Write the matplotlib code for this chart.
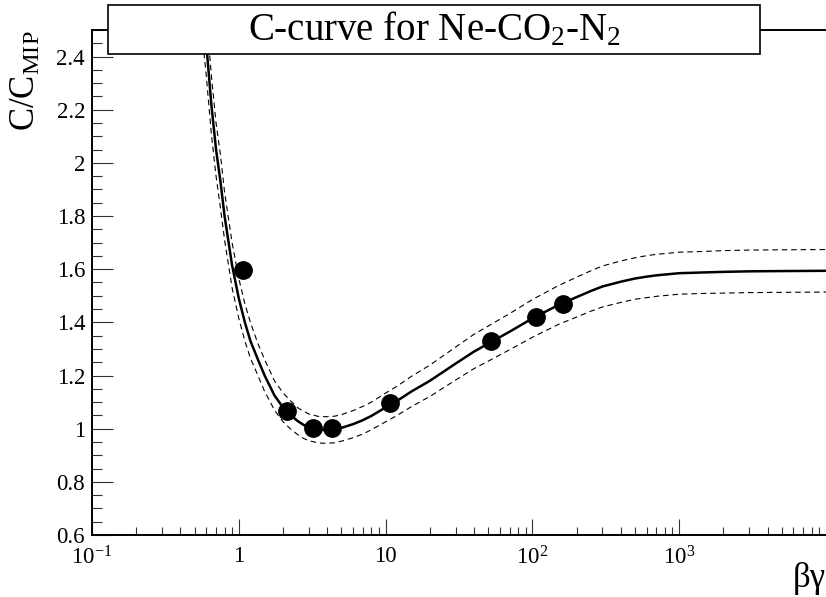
import matplotlib
matplotlib.use("Agg")
import matplotlib.pyplot as plt
from matplotlib.patches import Rectangle
from matplotlib.ticker import FixedLocator, FixedFormatter, LogLocator, MultipleLocator, NullFormatter

plt.rcParams['font.family'] = ['Liberation Serif', 'DejaVu Serif']
plt.rcParams['mathtext.fontset'] = 'custom'
plt.rcParams['mathtext.rm'] = 'Liberation Serif'
plt.rcParams['mathtext.it'] = 'Liberation Serif:italic'
plt.rcParams['mathtext.bf'] = 'Liberation Serif:bold'

# ---- data ----
bg_data = [1.07, 2.13, 3.2, 4.33, 10.7, 52.5, 106, 162]
c_data = [1.597, 1.066, 1.002, 1.002, 1.096, 1.331, 1.421, 1.470]

bg_fit = [0.57, 0.6, 0.65, 0.7, 0.75, 0.8, 0.9, 1.0, 1.1, 1.2,
          1.35, 1.5, 1.75, 2.0, 2.25, 2.5, 2.75, 3.0, 3.5, 4.0,
          4.5, 5.0, 6.0, 7.0, 8.0, 10, 12, 15, 20, 30,
          40, 50, 70, 100, 150, 200, 250, 300, 400, 500,
          600, 700, 800, 1000, 1500, 2000, 3000, 5000, 10000]
c_fit = [2.58, 2.45, 2.22, 2.05, 1.93, 1.80, 1.615, 1.49, 1.40, 1.33,
         1.26, 1.20, 1.125, 1.08, 1.052, 1.03, 1.015, 1.005, 0.996, 0.995,
         0.997, 1.003, 1.017, 1.032, 1.048, 1.08, 1.105, 1.14, 1.18, 1.245,
         1.29, 1.32, 1.365, 1.415, 1.465, 1.495, 1.518, 1.535, 1.553, 1.565,
         1.572, 1.577, 1.580, 1.585, 1.588, 1.59, 1.592, 1.593, 1.594]
c_upper = [2.71, 2.57, 2.33, 2.15, 2.03, 1.89, 1.70, 1.565, 1.47, 1.40,
           1.32, 1.26, 1.18, 1.135, 1.105, 1.08, 1.066, 1.055, 1.046, 1.045,
           1.047, 1.053, 1.068, 1.084, 1.10, 1.134, 1.16, 1.197, 1.239, 1.307,
           1.355, 1.386, 1.433, 1.486, 1.538, 1.57, 1.594, 1.612, 1.631, 1.643,
           1.651, 1.656, 1.659, 1.664, 1.667, 1.67, 1.672, 1.673, 1.674]
c_lower = [2.45, 2.33, 2.11, 1.95, 1.83, 1.71, 1.53, 1.415, 1.33, 1.265,
           1.20, 1.14, 1.07, 1.026, 0.999, 0.979, 0.964, 0.955, 0.946, 0.945,
           0.947, 0.953, 0.966, 0.980, 0.996, 1.026, 1.05, 1.083, 1.121, 1.183,
           1.226, 1.254, 1.297, 1.344, 1.392, 1.42, 1.442, 1.458, 1.475, 1.487,
           1.493, 1.498, 1.501, 1.506, 1.509, 1.51, 1.512, 1.513, 1.514]

x_major = [0.1, 1, 10, 100, 1000]
x_labels = [r'$10^{-1}$', '1', '10', r'$10^{2}$', r'$10^{3}$']
y_major = [0.6, 0.8, 1.0, 1.2, 1.4, 1.6, 1.8, 2.0, 2.2, 2.4]
y_labels = ['0.6', '0.8', '1', '1.2', '1.4', '1.6', '1.8', '2', '2.2', '2.4']

title_text = r'C-curve for Ne-CO$_2$-N$_2$'
ylabel_text = r'C/C$_{\mathrm{MIP}}$'
xlabel_text = 'βγ'

W, H = 826, 597
fig = plt.figure(figsize=(W / 100, H / 100), dpi=100)
ax = fig.add_axes([92 / W, 62 / H, 734 / W, 505 / H])

ax.plot(bg_fit, c_upper, color='black', lw=0.8, ls=(0, (5, 3.5)))
ax.plot(bg_fit, c_lower, color='black', lw=0.8, ls=(0, (5, 3.5)))
ax.plot(bg_fit, c_fit, color='black', lw=1.8)
ax.plot(bg_data, c_data, 'o', color='black', ms=12.5, zorder=5)

ax.set_xscale('log')
ax.set_xlim(0.1, 1e4)
ax.set_ylim(0.6, 2.5)

ax.xaxis.set_major_locator(FixedLocator(x_major))
ax.xaxis.set_major_formatter(FixedFormatter(x_labels))
ax.xaxis.set_minor_locator(LogLocator(base=10, subs=[2, 3, 4, 5, 6, 7, 8, 9], numticks=20))
ax.xaxis.set_minor_formatter(NullFormatter())
ax.yaxis.set_major_locator(FixedLocator(y_major))
ax.yaxis.set_major_formatter(FixedFormatter(y_labels))
ax.yaxis.set_minor_locator(MultipleLocator(0.05))

ax.tick_params(axis='both', which='both', direction='in', top=False, right=False,
               labelsize=16.5, width=0.8, color='#333333')
ax.tick_params(axis='x', which='major', length=11.5, pad=8)
ax.tick_params(axis='x', which='minor', length=5.8)
ax.tick_params(axis='y', which='major', length=15, pad=5)
ax.tick_params(axis='y', which='minor', length=7.5)

ax.spines['right'].set_visible(False)
for s in ['left', 'bottom', 'top']:
    ax.spines[s].set_linewidth(1.4)

# title box
rect = Rectangle((108 / W, (H - 54) / H), (760 - 108) / W, 49 / H, transform=fig.transFigure,
                 facecolor='white', edgecolor='black', lw=1.2, zorder=10)
fig.add_artist(rect)
fig.text(434 / W, (H - 30) / H, title_text, ha='center', va='center', fontsize=28, zorder=11)

fig.text(26 / W, (H - 30) / H, ylabel_text, rotation=90, ha='center', va='top', fontsize=25)
fig.text(1.0, (H - 562) / H, xlabel_text, ha='right', va='top', fontsize=25)

fig.savefig('out.png', dpi=100)
